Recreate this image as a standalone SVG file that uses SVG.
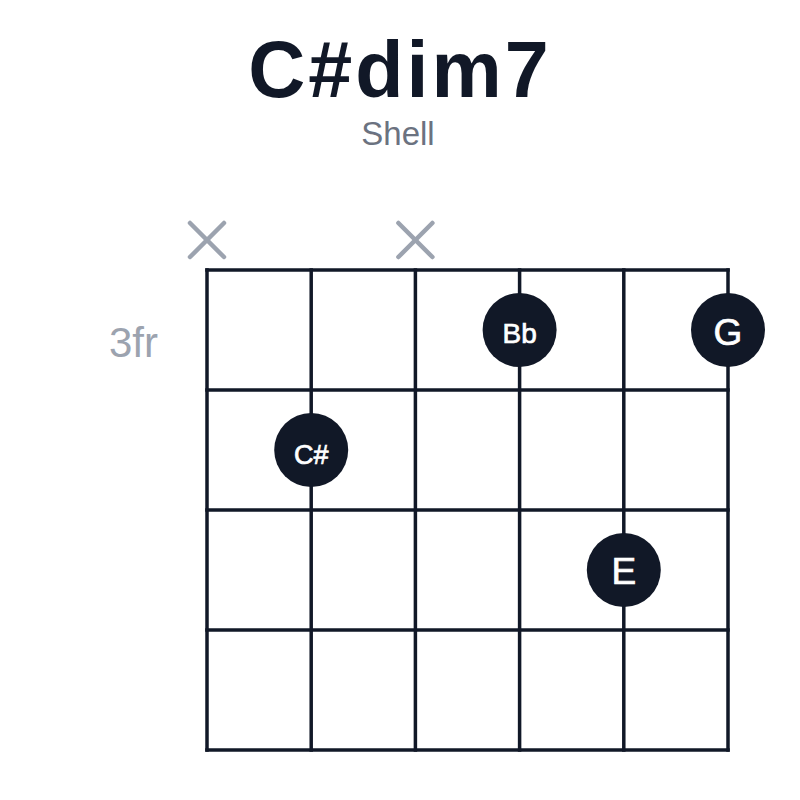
<svg xmlns="http://www.w3.org/2000/svg" width="800" height="800" viewBox="0 0 800 800">
<style>
.grid line{stroke:#111827;stroke-width:3.5;stroke-linecap:square}
.mute{stroke:#9ca3af;stroke-width:4.5;stroke-linecap:round}
.dot{fill:#111827}
.lbl{fill:#ffffff;stroke:#ffffff;stroke-width:0.7;font-family:"Liberation Sans",Arial,sans-serif;text-anchor:middle}
</style>
<rect width="800" height="800" fill="#ffffff"/>
<g id="title">
<text x="400" y="97" font-family="Liberation Sans,Arial,sans-serif" font-weight="bold" font-size="79" letter-spacing="3" fill="#111827" text-anchor="middle">C#dim7</text>
<text x="398" y="145" font-family="Liberation Sans,Arial,sans-serif" font-size="33" fill="#6b7280" text-anchor="middle">Shell</text>
</g>
<g id="fret-label">
<text x="158" y="357" font-family="Liberation Sans,Arial,sans-serif" font-size="42" fill="#9ca3af" text-anchor="end">3fr</text>
</g>
<g id="grid" class="grid">
<line x1="207" y1="270" x2="728" y2="270"/>
<line x1="207" y1="390" x2="728" y2="390"/>
<line x1="207" y1="510" x2="728" y2="510"/>
<line x1="207" y1="630" x2="728" y2="630"/>
<line x1="207" y1="750" x2="728" y2="750"/>
<line x1="207" y1="270" x2="207" y2="750"/>
<line x1="311.2" y1="270" x2="311.2" y2="750"/>
<line x1="415.4" y1="270" x2="415.4" y2="750"/>
<line x1="519.6" y1="270" x2="519.6" y2="750"/>
<line x1="623.8" y1="270" x2="623.8" y2="750"/>
<line x1="728" y1="270" x2="728" y2="750"/>
</g>
<g id="mute-1">
<line class="mute" x1="190" y1="223" x2="224" y2="257"/>
<line class="mute" x1="224" y1="223" x2="190" y2="257"/>
</g>
<g id="mute-3">
<line class="mute" x1="398.4" y1="223" x2="432.4" y2="257"/>
<line class="mute" x1="432.4" y1="223" x2="398.4" y2="257"/>
</g>
<g id="note-Bb">
<circle class="dot" cx="519.6" cy="330" r="37"/>
<text class="lbl" x="519.6" y="343" font-size="28">Bb</text>
</g>
<g id="note-G">
<circle class="dot" cx="728" cy="330" r="37"/>
<text class="lbl" x="728" y="345" font-size="37">G</text>
</g>
<g id="note-Cs">
<circle class="dot" cx="311.2" cy="450" r="37"/>
<text class="lbl" x="311.2" y="464" font-size="27">C#</text>
</g>
<g id="note-E">
<circle class="dot" cx="623.8" cy="570" r="37"/>
<text class="lbl" x="623.8" y="584" font-size="37">E</text>
</g>
</svg>
